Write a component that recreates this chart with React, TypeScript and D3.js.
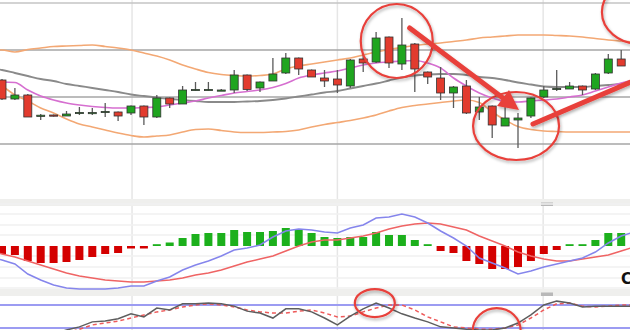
import React from "react";
import * as d3 from "d3";

const W = 630;
const H = 330;

// ---- Price candles (49 bars) ----
const opens = [70,51,55,34,35,34,37,37,38,38,37,44,33,52,46,60,60,59.5,60,75,62,69,77,92,80,72,71,64,91,88,113,86,106,78,72,57,64,38,44,24,30,34,53,61,61,64,61,77,91];
const highs = [71,62,56,36,35.5,39,43,42,47,38.5,44.5,44.5,55,52.5,64,68,68,61,80,75.5,68.5,92,97,92.5,80.5,80,80,91,95,118,113.5,132,107,78.5,83,64,70,53,44.5,43,37,52.5,64,80,68,64.5,77,96,100];
const lows = [50,50,33,30,33.5,34,35,35,33,29,35,25,32,42,46,59.5,59.5,59,57,59,58,69,76,75,73,63,57,62,78,87,82,80,58,66,50,42,36,30,12,24,2,32,52,59,61,55,60,76,84];
const closes = [51,55,33,34.8,34,36,37.6,37.5,38.6,34,44,33,52,46,60,60.6,60.6,60,75,60.5,68,76,92,81,73,69,65,90,87,112,87,105,81,73,57,63,37,43,25,32,32,52,60,61.6,64,60,76,91,84];

// ---- Overlays (bar -1 .. 49) ----
const upperBand = [100,100,98,100.5,102,103.5,104,104.5,105,103.5,102,100,97,94,90,85,81,77.5,75.5,74.5,74,74.5,76,81,84,86,88,90,92,95,98,100.5,102.5,104.5,106,107,108.5,110,112,113,114,115,115,115,114.5,114,113,111.5,110,109,108];
const lowerBand = [70,64,55,49,42,37,31,26,23,20,17,14.5,13,14,15,18,20.5,21,19.5,18,17.5,17.5,18,18.5,20,23,25.5,27.5,29.5,32,35,39,42.5,44.5,46,47.5,49,50,47.5,38,30,23.5,20.5,19,18.5,18,18,18,18,18,18];
const fastMA = [68,68,67.5,60,54,50,47,45,43.5,42.5,42,42,42.5,43,45,47,49,52,54.5,57,58.5,60,62.5,66.5,72,75,77,79,82,85,87,88,89,89.5,87,82,72,64,57,52,48.5,48,49,50,51,53,55,59,63,67,70];
const slowMA = [82,80,77,74,71,69,66,64,62,60,58,55.5,54,52.5,51,50,49,48,48,48,48.5,49,50,51.5,53.5,55.5,57.5,59,61.5,64,66.5,69.5,72.5,74.5,75.5,76,76,75,73,72,70,67.5,65.5,63.5,63,63,63,64,65,66,66.5];
const priceGrid = [147, 100, 53, 6];

// ---- MACD ----
const macdHist = [-8,-9,-15,-17,-17,-16,-14,-11,-8,-7,-2.5,-2.5,1.5,3.5,8,12,13,13,16,14,14,15,18,17,13,9,8,9,9,14,11,11,6,1.5,-5,-7,-15,-18,-23,-23,-21,-15,-8,-4,0.6,0.8,6,13,13];
const macdLine = [-11,-14,-18,-28,-34,-39,-42,-43,-43,-43,-42,-40,-40,-35,-31,-24,-19,-15,-10,-4,-2,1,9,15,17,16,14,13,18,21,28,29,32,29,23,15,8,0,-12,-17,-22,-28,-25,-21,-18,-15,-12,-6,3,10,14];
const signalLine = [-5,-8,-11,-15,-19,-23,-27,-30,-32,-34,-35,-36,-36,-35,-34,-32,-29,-27,-24,-20,-16,-13,-10,-5,0,4,6,6,8,10,13,17,20,22,23,22,19,16,10,5,0,-6,-10,-13,-15,-15,-13,-11,-9,-5,-1];
const macdGrid = [42, 32, 21, 11, -10, -21, -32, -42];

// ---- Stochastic ----
const stochK = [1,0,2,0,1,4,15,23,36,38,44,57,49,72,67,83,83,85,83,77,64,59,46,70,70,62,46,28,51,70,85,72,57,46,36,23,20,17,15,15,20,33,54,80,90,85,75,77,77,77,77];
const stochD = [0,1,0,1,2,3,7,17,28,33,38,46,54,62,67,75,80,83,80,75,67,62,59,59,64,67,59,49,51,62,72,80,80,67,49,36,23,20,17,17,20,28,46,67,83,85,77,75,77,80,80];
const stochLevels = [80, 20];

// ---- Annotations (bar index, value) ----
const priceCircles = [
  { i: 30.6, v: 109, rx: 36, ry: 37 },
  { i: 39.85, v: 24, rx: 43, ry: 34 },
  { i: 49.45, v: 138, rx: 38, ry: 32 },
];
const stochCircles = [
  { i: 28.9, v: 85, rx: 20, ry: 14 },
  { i: 38.35, v: 12, rx: 24, ry: 23 },
];
const arrows = [
  { from: [31.6, 122], to: [40.08, 40], head: true },
  { from: [41.16, 26], to: [50.2, 76], head: false },
];

const vGridIdx = [10.08, 26, 41.95];

export default function App() {
  const x = d3.scaleLinear().domain([0, 48]).range([2, 621.2]);
  const xe = (k: number) => x(k - 1);
  const yP = d3.scaleLinear().domain([0, 150]).range([150, 0]);
  const yM = d3.scaleLinear().domain([-50, 50]).range([296, 196]);
  const yS = d3.scaleLinear().domain([0, 100]).range([335.7, 297.3]);

  const smooth = (ys: (v: number) => number) =>
    d3.line<number>().x((_, k) => xe(k)).y((d) => ys(d)).curve(d3.curveMonotoneX);
  const straight = (ys: (v: number) => number) =>
    d3.line<number>().x((_, k) => xe(k)).y((d) => ys(d));

  const red = "#e23b2e";
  const annot = "#e8403a";

  const arrowEls = arrows.map((a, k) => {
    const x1 = x(a.from[0]), y1 = yP(a.from[1]);
    const x2 = x(a.to[0]), y2 = yP(a.to[1]);
    const dx = x2 - x1, dy = y2 - y1;
    const len = Math.hypot(dx, dy);
    const ux = dx / len, uy = dy / len;
    const L = 20, hw = 10;
    const bx = x2 - ux * L, by = y2 - uy * L;
    const nx = -uy, ny = ux;
    return (
      <g key={k} filter="url(#sh)">
        <line x1={x1} y1={y1} x2={a.head ? bx + ux * 2 : x2} y2={a.head ? by + uy * 2 : y2}
          stroke={annot} strokeWidth={5} strokeLinecap="round" />
        {a.head && (
          <polygon
            points={`${x2},${y2} ${bx + nx * hw},${by + ny * hw} ${bx - nx * hw},${by - ny * hw}`}
            fill={annot}
          />
        )}
      </g>
    );
  });

  return (
    <svg width={W} height={H} style={{ position: "absolute", left: 0, top: 0, background: "#fff" }}
      fontFamily="DejaVu Sans, sans-serif">
      <defs>
        <filter id="sh" x="-20%" y="-20%" width="140%" height="140%">
          <feDropShadow dx="1" dy="2" stdDeviation="1.4" floodColor="#000" floodOpacity="0.3" />
        </filter>
      </defs>
      <rect width={W} height={H} fill="#fff" />

      {/* vertical grid */}
      {vGridIdx.map((g, k) => (
        <line key={k} x1={x(g)} x2={x(g)} y1={0} y2={H} stroke="#e6e6e6" strokeWidth={1.5} />
      ))}

      {/* MACD panel background */}
      <rect x={0} y={199} width={W} height={7} fill="#efefed" />
      <rect x={541} y={202.5} width={12} height={3.5} fill="#b8b8b8" />
      {macdGrid.map((g, k) => (
        <line key={k} x1={0} x2={W} y1={yM(g)} y2={yM(g)} stroke="#f0f0f0" strokeWidth={1.5} />
      ))}
      {/* Stoch panel header */}
      <rect x={0} y={289} width={W} height={7} fill="#efefed" />
      <rect x={541} y={292.5} width={12} height={3.5} fill="#b8b8b8" />

      {/* price grid */}
      {priceGrid.map((g, k) => (
        <line key={k} x1={0} x2={W} y1={yP(g)} y2={yP(g)}
          stroke={k === 0 ? "#c4c4c4" : "#a6a6a6"} strokeWidth={k === 0 ? 1.5 : 1.6} />
      ))}

      {/* overlays */}
      <path d={smooth(yP)(upperBand) || ""} fill="none" stroke="#f3a874" strokeWidth={1.6} />
      <path d={smooth(yP)(lowerBand) || ""} fill="none" stroke="#f3a874" strokeWidth={1.6} />
      <path d={smooth(yP)(slowMA) || ""} fill="none" stroke="#8a8a8a" strokeWidth={1.8} />
      <path d={smooth(yP)(fastMA) || ""} fill="none" stroke="#d66fd0" strokeWidth={1.6} />

      {/* candles */}
      {opens.map((o, i) => {
        const c = closes[i];
        const up = c >= o;
        const yo = yP(o), yc = yP(c);
        const top = Math.min(yo, yc);
        const h = Math.max(Math.abs(yo - yc), 1.2);
        const cx = x(i);
        return (
          <g key={i}>
            <line x1={cx} x2={cx} y1={yP(highs[i])} y2={yP(lows[i])} stroke="#5a5a5a" strokeWidth={1.3} />
            <rect x={cx - 4} y={top} width={8} height={h} fill={up ? "#1fa51f" : red}
              stroke="#333" strokeWidth={0.8} />
          </g>
        );
      })}

      {/* MACD histogram */}
      {macdHist.map((v, i) => {
        const y0 = yM(0);
        const yv = yM(v);
        const hh = Math.max(Math.abs(yv - y0), 1.8);
        const top = v >= 0 ? y0 - hh : y0;
        return (
          <rect key={i} x={x(i) - 4} y={top} width={8} height={hh}
            fill={v >= 0 ? "#1cb01c" : "#d40000"} />
        );
      })}
      <path d={straight(yM)(signalLine) || ""} fill="none" stroke="#ef6464" strokeWidth={1.5} />
      <path d={straight(yM)(macdLine) || ""} fill="none" stroke="#8585ec" strokeWidth={1.5} />

      {/* Stochastic */}
      {stochLevels.map((lv, k) => (
        <line key={k} x1={0} x2={W} y1={yS(lv)} y2={yS(lv)} stroke="#9c9cf2" strokeWidth={2} />
      ))}
      <path d={straight(yS)(stochD) || ""} fill="none" stroke="#ee5a5a" strokeWidth={1.5} strokeDasharray="4,3" />
      <path d={straight(yS)(stochK) || ""} fill="none" stroke="#5e5e5e" strokeWidth={1.5} />

      {/* annotations */}
      {priceCircles.map((c, k) => (
        <ellipse key={k} cx={x(c.i)} cy={yP(c.v)} rx={c.rx} ry={c.ry} fill="none"
          stroke={annot} strokeWidth={2.2} filter="url(#sh)" />
      ))}
      {stochCircles.map((c, k) => (
        <ellipse key={k} cx={x(c.i)} cy={yS(c.v)} rx={c.rx} ry={c.ry} fill="none"
          stroke={annot} strokeWidth={2.2} filter="url(#sh)" />
      ))}
      {arrowEls}

      <text x={621} y={284} fontSize={15} fontWeight="bold" fill="#111">C</text>
    </svg>
  );
}
